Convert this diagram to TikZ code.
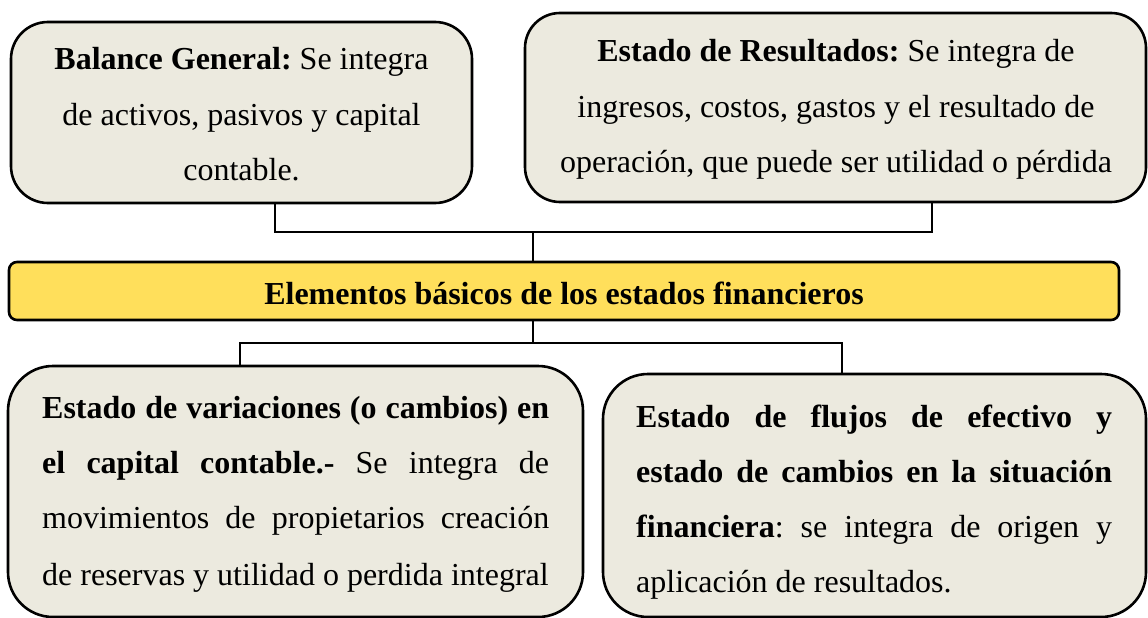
\documentclass[tikz,border=0pt]{standalone}
\usepackage{fontspec}
\setmainfont{Liberation Serif}
\usetikzlibrary{calc}
\definecolor{boxfill}{RGB}{236,234,223}
\definecolor{barfill}{RGB}{255,223,91}
\frenchspacing
\begin{document}
\begin{tikzpicture}[x=1pt,y=-1pt,
  card/.style={draw=black, line width=2.6pt, fill=boxfill, inner sep=0pt, rectangle},
  bar/.style={draw=black, line width=2.6pt, fill=barfill, rounded corners=8pt, inner sep=0pt, rectangle},
  txt/.style={inner sep=0pt, font=\fontsize{32}{38}\selectfont},
  link/.style={draw=black, line width=2.6pt}]
\useasboundingbox (0,0) rectangle (1148,618);

% connectors
\coordinate (j1) at (275,232);
\coordinate (j2) at (932,232);
\coordinate (j3) at (533,232);
\coordinate (k1) at (240,343);
\coordinate (k2) at (842,343);
\coordinate (k3) at (533,343);

% boxes
\node[card, rounded corners=37pt, minimum width=461pt, minimum height=181pt] (b1) at (241.5,112.5) {};
\node[card, rounded corners=35pt, minimum width=621pt, minimum height=189pt] (b2) at (835.5,107.5) {};
\node[bar, minimum width=1110pt, minimum height=58pt] (bar) at (564,291) {};
\node[card, rounded corners=45pt, minimum width=575pt, minimum height=251pt] (b3) at (295.5,491.5) {};
\node[card, rounded corners=45pt, minimum width=543pt, minimum height=243pt] (b4) at (874.5,495.5) {};

\draw[link] (j1 |- b1.south) -- (j1) -- (j2) -- (j2 |- b2.south);
\draw[link] (j3) -- (j3 |- bar.north);
\draw[link] (k3 |- bar.south) -- (k3);
\draw[link] (k1 |- b3.north) -- (k1) -- (k2) -- (k2 |- b4.north);

% box 1 text
\node[txt, anchor=base] (t11) at (241.5,70) {\textbf{Balance General:} Se integra};
\node[txt, anchor=base] (t12) at (241.5,125) {de activos, pasivos y capital};
\node[txt, anchor=base] (t13) at (241.5,180) {contable.};

% box 2 text
\node[txt, anchor=base] (t21) at (836,62) {\textbf{Estado de Resultados:} Se integra de};
\node[txt, anchor=base] (t22) at (836,117) {ingresos, costos, gastos y el resultado de};
\node[txt, anchor=base] (t23) at (836,172) {operación, que puede ser utilidad o pérdida};

% bar text
\node[txt, anchor=base] (tb) at (564,304) {\textbf{Elementos básicos de los estados financieros}};

% box 3 text
\node[txt, anchor=base west] (t31) at (42,418) {\makebox[507pt][s]{\textbf{Estado de variaciones (o cambios) en}}};
\node[txt, anchor=base west] (t32) at (42,473) {\makebox[507pt][s]{\textbf{el capital contable.-} Se integra de}};
\node[txt, anchor=base west] (t33) at (42,528) {\makebox[507pt][s]{movimientos de propietarios creación}};
\node[txt, anchor=base west] (t34) at (42,585) {de reservas y utilidad o perdida integral};

% box 4 text
\node[txt, anchor=base west] (t41) at (636,427) {\makebox[476pt][s]{\textbf{Estado de flujos de efectivo y}}};
\node[txt, anchor=base west] (t42) at (636,482) {\makebox[476pt][s]{\textbf{estado de cambios en la situación}}};
\node[txt, anchor=base west] (t43) at (636,537) {\makebox[476pt][s]{\textbf{financiera}: se integra de origen y}};
\node[txt, anchor=base west] (t44) at (636,592) {aplicación de resultados.};
\end{tikzpicture}
\end{document}
